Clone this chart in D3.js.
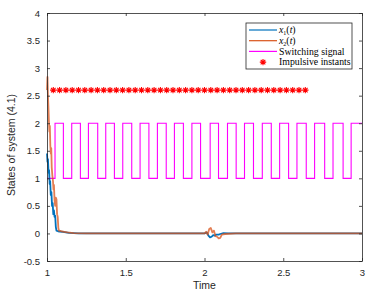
<!DOCTYPE html>
<html>
<head>
<meta charset="utf-8">
<script src="https://cdn.jsdelivr.net/npm/d3@7"></script>
<style>
  body { margin: 0; background: #fff; }
  svg { display: block; }
  .tick text { font-family: "Liberation Sans", Arial, sans-serif; font-size: 9.5px; fill: #262626; }
</style>
</head>
<body>
<div id="main"></div>
<script>
// x1(t)
var x1Time = [1.000, 1.003, 1.006, 1.010, 1.013, 1.017, 1.020, 1.024, 1.028, 1.032, 1.036, 1.040, 1.044, 1.048, 1.052, 1.056, 1.060, 1.070, 1.080, 1.100, 1.120, 1.140, 1.200,
              2.000, 2.015, 2.025, 2.035, 2.045, 2.055, 2.065, 2.075, 2.090, 2.100, 2.120, 2.150, 3.000];
var x1Value = [1.45, 1.30, 1.35, 1.10, 1.15, 0.90, 0.95, 0.70, 0.75, 0.50, 0.55, 0.35, 0.42, 0.30, 0.32, 0.12, 0.05, 0.04, 0.035, 0.03, 0.02, 0.01, 0.0,
               0.0, 0.02, -0.04, -0.07, -0.06, -0.03, -0.04, -0.02, -0.02, -0.01, 0.005, 0.0, 0.0];

// x2(t)
var x2Time = [1.000, 1.003, 1.006, 1.009, 1.012, 1.015, 1.018, 1.021, 1.024, 1.027, 1.030, 1.034, 1.038, 1.041, 1.044, 1.048, 1.052, 1.056, 1.060, 1.064, 1.068, 1.072, 1.076, 1.090, 1.110, 1.130, 1.170, 1.250,
              2.000, 2.010, 2.020, 2.030, 2.040, 2.050, 2.060, 2.070, 2.080, 2.090, 2.100, 2.110, 2.130, 2.200, 3.000];
var x2Value = [2.60, 2.84, 2.50, 2.30, 2.05, 1.85, 1.95, 1.60, 1.45, 1.55, 1.20, 1.05, 0.95, 0.80, 0.88, 0.60, 0.50, 0.65, 0.62, 0.35, 0.30, 0.10, 0.05, 0.04, 0.03, 0.02, 0.005, 0.0,
               0.0, 0.03, -0.02, 0.08, 0.10, 0.02, 0.05, -0.05, -0.06, -0.09, -0.08, -0.02, -0.01, 0.0, 0.0];

// switching signal (step-after)
var swTime = [1.000, 1.051, 1.104, 1.157, 1.212, 1.263, 1.322, 1.373, 1.428, 1.481, 1.538, 1.591, 1.647, 1.701, 1.757, 1.809, 1.866, 1.920, 1.975,
              2.036, 2.089, 2.146, 2.201, 2.254, 2.311, 2.367, 2.424, 2.477, 2.534, 2.587, 2.646, 2.699, 2.763, 2.816, 2.880, 2.931, 3.000];
var swValue = [1, 2, 1, 2, 1, 2, 1, 2, 1, 2, 1, 2, 1, 2, 1, 2, 1, 2, 1,
               2, 1, 2, 1, 2, 1, 2, 1, 2, 1, 2, 1, 2, 1, 2, 1, 2, 2];

// impulsive instants, all drawn at 2.6
var impulseTime = [1.04, 1.08, 1.12, 1.16, 1.20, 1.24, 1.28, 1.32, 1.36, 1.40, 1.44, 1.48, 1.52, 1.56, 1.60, 1.64, 1.68, 1.72, 1.76, 1.80,
                   1.84, 1.88, 1.92, 1.96, 2.00, 2.04, 2.08, 2.12, 2.16, 2.20, 2.24, 2.28, 2.32, 2.36, 2.40, 2.44, 2.48, 2.52, 2.56, 2.60, 2.64];
var impulseLevel = 2.6;

var xTicks = [1, 1.5, 2, 2.5, 3];
var yTicks = [-0.5, 0, 0.5, 1, 1.5, 2, 2.5, 3, 3.5, 4];

var W = 375, H = 295;
var m = { left: 47, right: 13, top: 13, bottom: 34 };

var x = d3.scaleLinear().domain([1, 3]).range([m.left, W - m.right]);
var y = d3.scaleLinear().domain([-0.5, 4]).range([H - m.bottom, m.top]);

var svg = d3.select("#main").append("svg").attr("width", W).attr("height", H);

var axisColor = "#262626";

function starPath(r) {
    var d = r * 0.72;
    return "M" + (-r) + ",0L" + r + ",0M0," + (-r) + "L0," + r +
        "M" + (-d) + "," + (-d) + "L" + d + "," + d + "M" + (-d) + "," + d + "L" + d + "," + (-d);
}

var plot = svg.append("g");

// switching signal
var swData = swTime.map(function (t, i) { return { t: t, v: swValue[i] }; });
plot.append("path")
    .datum(swData)
    .attr("fill", "none")
    .attr("stroke", "#ff00ff")
    .attr("stroke-width", 1.1)
    .attr("d", d3.line().curve(d3.curveStepAfter)
        .x(function (d) { return x(d.t); })
        .y(function (d) { return y(d.v); }));

// impulsive instants
plot.selectAll(".imp")
    .data(impulseTime)
    .enter()
    .append("path")
    .attr("class", "imp")
    .attr("transform", function (d) { return "translate(" + x(d) + "," + y(impulseLevel) + ")"; })
    .attr("d", starPath(3.2))
    .attr("stroke", "#ff0000")
    .attr("stroke-width", 1.1)
    .attr("fill", "none");

var line = d3.line()
    .x(function (d) { return x(d.t); })
    .y(function (d) { return y(d.v); });

plot.append("path")
    .datum(x1Time.map(function (t, i) { return { t: t, v: x1Value[i] }; }))
    .attr("fill", "none")
    .attr("stroke", "#0072bd")
    .attr("stroke-width", 1.8)
    .attr("stroke-linejoin", "round")
    .attr("d", line);

plot.append("path")
    .datum(x2Time.map(function (t, i) { return { t: t, v: x2Value[i] }; }))
    .attr("fill", "none")
    .attr("stroke", "#d95319")
    .attr("stroke-width", 1.8)
    .attr("stroke-opacity", 0.75)
    .attr("stroke-linejoin", "round")
    .attr("d", line);

// axes (box with inward ticks)
var gx = svg.append("g")
    .attr("transform", "translate(0," + (H - m.bottom) + ")")
    .call(d3.axisBottom(x).tickValues(xTicks).tickSizeInner(-3).tickSizeOuter(0).tickPadding(8)
        .tickFormat(function (d) { return String(d); }));
var gxTop = svg.append("g")
    .attr("transform", "translate(0," + m.top + ")")
    .call(d3.axisTop(x).tickValues(xTicks).tickSizeInner(-3).tickSizeOuter(0).tickFormat(""));
var gy = svg.append("g")
    .attr("transform", "translate(" + m.left + ",0)")
    .call(d3.axisLeft(y).tickValues(yTicks).tickSizeInner(-3).tickSizeOuter(0).tickPadding(7)
        .tickFormat(function (d) { return String(d); }));
var gyRight = svg.append("g")
    .attr("transform", "translate(" + (W - m.right) + ",0)")
    .call(d3.axisRight(y).tickValues(yTicks).tickSizeInner(-3).tickSizeOuter(0).tickFormat(""));

[gx, gxTop, gy, gyRight].forEach(function (g) {
    g.select(".domain").attr("stroke", axisColor).attr("stroke-width", 0.8);
    g.selectAll(".tick line").attr("stroke", axisColor).attr("stroke-width", 0.8);
});

// axis labels
svg.append("text")
    .attr("x", (x.range()[0] + x.range()[1]) / 2)
    .attr("y", H - 6)
    .attr("text-anchor", "middle")
    .attr("font-family", "Liberation Sans, Arial, sans-serif")
    .attr("font-size", 10.5)
    .attr("fill", axisColor)
    .text("Time");

svg.append("text")
    .attr("transform", "translate(15," + ((y.range()[0] + y.range()[1]) / 2 + 8) + ") rotate(-90)")
    .attr("text-anchor", "middle")
    .attr("font-family", "Liberation Sans, Arial, sans-serif")
    .attr("font-size", 10.5)
    .attr("fill", axisColor)
    .text("States of system (4.1)");

// legend
var lg = svg.append("g").attr("transform", "translate(246,23)");
lg.append("rect")
    .attr("width", 106).attr("height", 46)
    .attr("fill", "#fff").attr("stroke", axisColor).attr("stroke-width", 0.8);

var legendItems = [
    { kind: "line", color: "#0072bd", label: ["x", "1", "(", "t", ")"] },
    { kind: "line", color: "#d95319", label: ["x", "2", "(", "t", ")"] },
    { kind: "line", color: "#ff00ff", label: "Switching signal" },
    { kind: "star", color: "#ff0000", label: "Impulsive instants" }
];

legendItems.forEach(function (it, i) {
    var cy = 7 + i * 10.7;
    if (it.kind === "line") {
        lg.append("line").attr("x1", 3).attr("x2", 31).attr("y1", cy).attr("y2", cy)
            .attr("stroke", it.color).attr("stroke-width", 1.2);
    } else {
        lg.append("path").attr("transform", "translate(17," + cy + ")")
            .attr("d", starPath(3.2)).attr("stroke", it.color).attr("stroke-width", 1.1).attr("fill", "none");
    }
    var t = lg.append("text")
        .attr("x", 33).attr("y", cy + 3.3)
        .attr("font-family", "Liberation Serif, Times New Roman, serif")
        .attr("font-size", 9.8)
        .attr("fill", "#000");
    if (typeof it.label === "string") {
        t.text(it.label);
    } else {
        t.append("tspan").attr("font-style", "italic").text(it.label[0]);
        t.append("tspan").attr("font-size", 6).attr("dy", 1.5).text(it.label[1]);
        t.append("tspan").attr("dy", -1.5).text(it.label[2]);
        t.append("tspan").attr("font-style", "italic").text(it.label[3]);
        t.append("tspan").text(it.label[4]);
    }
});
</script>
</body>
</html>
